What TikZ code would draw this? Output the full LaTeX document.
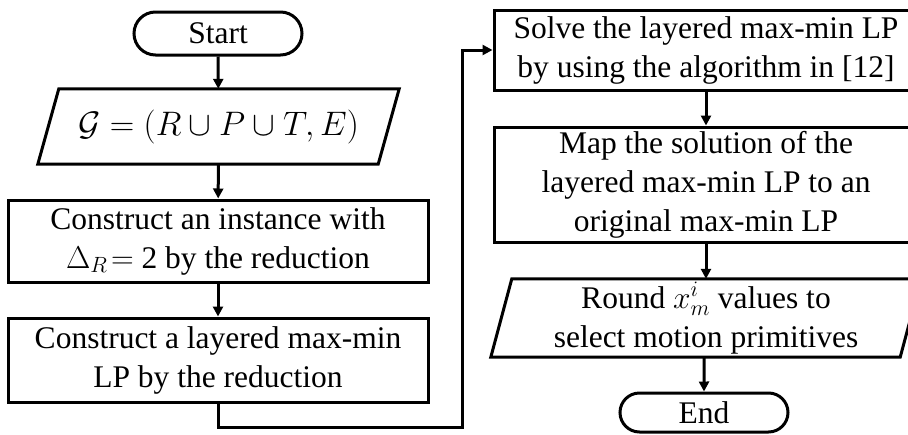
\RequirePackage{fix-cm}
\documentclass[tikz,border=0pt]{standalone}
\usepackage{fontspec}
\setmainfont{Liberation Serif}
\usetikzlibrary{arrows.meta,shapes.misc}
\begin{document}
\begin{tikzpicture}[x=1pt,y=-1pt,
  every node/.style={font=\fontsize{31.5}{39}\selectfont, align=center, inner sep=0pt},
  proc/.style={draw, line width=3pt, rectangle, minimum width=#1},
  term/.style={draw, line width=3pt, rounded rectangle, minimum width=168pt},
  iobox/.style={minimum width=#1},
  flow/.style={line width=3pt, -{Triangle[length=10pt,width=10pt]}},
  slant/.style={draw, line width=3pt, line join=miter}
]
\clip (0,0) rectangle (908,434);
\fill[white] (0,0) rectangle (908,434);

% left column
\node[term, minimum height=43pt] (start) at (218,33.5) {Start};
\node[iobox=340pt, minimum height=75pt, font=\fontsize{34}{40}\selectfont] (g) at (218.5,126.5)
  {$\mathcal{G} = (R \cup P \cup T, E)$};
\draw[slant] ([xshift=10.5pt]g.north west) -- ([xshift=10.5pt]g.north east)
  -- ([xshift=-10.5pt]g.south east) -- ([xshift=-10.5pt]g.south west) -- cycle;
\node[proc=420pt, minimum height=82pt] (b1) at (218,241)
  {Construct an instance with\\ $\Delta_R\!=$ 2 by the reduction};
\node[proc=420pt, minimum height=84pt] (b2) at (218,360)
  {Construct a layered max-min\\ LP by the reduction};

% right column
\node[proc=424pt, minimum height=80pt] (b3) at (706,50)
  {Solve the layered max-min LP\\ by using the algorithm in [12]};
\node[proc=424pt, minimum height=115pt] (b4) at (706,184.5)
  {Map the solution of the\\ layered max-min LP to an\\ original max-min LP};
\node[iobox=409pt, minimum height=78pt] (r) at (706,318)
  {Round $x_m^i$ values to\\ select motion primitives};
\draw[slant] ([xshift=10.5pt]r.north west) -- ([xshift=10.5pt]r.north east)
  -- ([xshift=-10.5pt]r.south east) -- ([xshift=-10.5pt]r.south west) -- cycle;
\node[term, minimum height=39pt] (end) at (704,412.5) {End};

% connectors
\coordinate (c1) at (462,427);
\draw[flow] (start) -- (g);
\draw[flow] (g) -- (b1);
\draw[flow] (b1) -- (b2);
\draw[flow] (b2.south) |- (c1) |- (b3.west);
\draw[flow] (b3) -- (b4);
\draw[flow] (b4) -- (r);
\draw[flow] (r.south -| end) -- (end);
\end{tikzpicture}
\end{document}
